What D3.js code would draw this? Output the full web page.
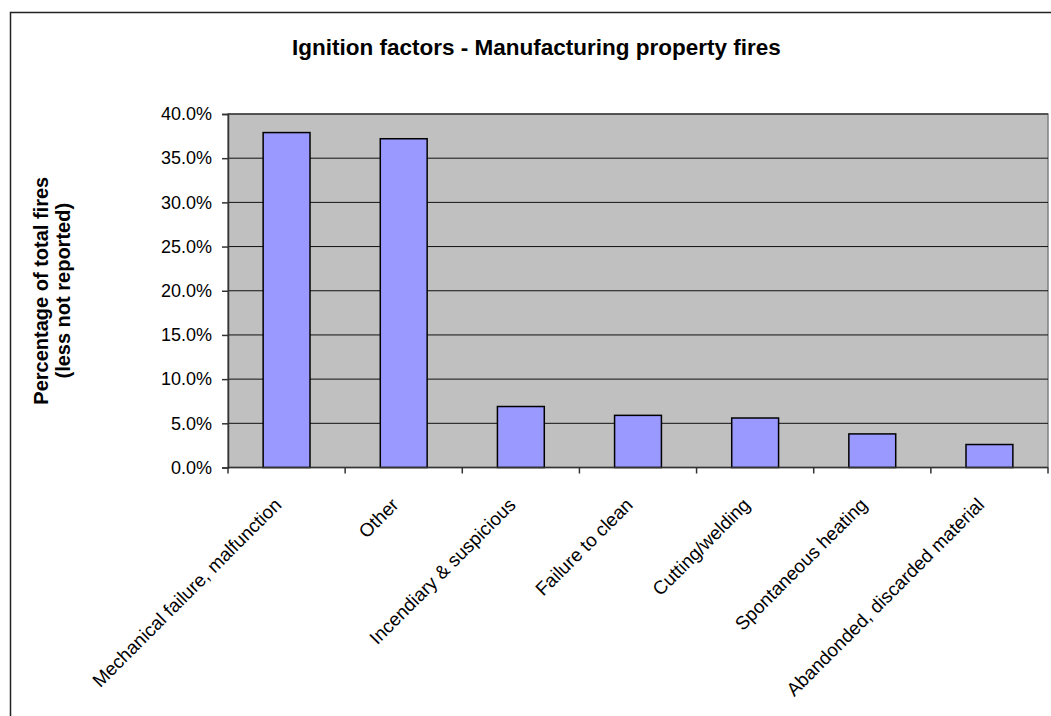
<!DOCTYPE html>
<html>
<head>
<meta charset="utf-8">
<script src="https://cdn.jsdelivr.net/npm/d3@7"></script>
<style>
  html, body { margin: 0; padding: 0; background: #fff; }
  svg { display: block; font-family: "Liberation Sans", Arial, sans-serif; }
</style>
</head>
<body>
<svg id="chart" width="1051" height="716"></svg>
<script>
const categories = [
  "Mechanical failure, malfunction",
  "Other",
  "Incendiary & suspicious",
  "Failure to clean",
  "Cutting/welding",
  "Spontaneous heating",
  "Abandonded, discarded material"
];
const values = [37.9, 37.2, 6.9, 5.9, 5.6, 3.8, 2.6];
const yTicks = [0, 5, 10, 15, 20, 25, 30, 35, 40];
const titleText = "Ignition factors - Manufacturing property fires";
const yLabelLines = ["Percentage of total fires", "(less not reported)"];

const svg = d3.select("#chart");
const plot = { left: 228, right: 1048, top: 114, bottom: 467.5 };

// outer chart border (extends beyond the window)
svg.append("rect")
  .attr("x", 10.5).attr("y", 12.5)
  .attr("width", 1100).attr("height", 800)
  .attr("fill", "#fff").attr("stroke", "#222").attr("stroke-width", 1.5);

const x = d3.scaleBand().domain(categories)
  .range([plot.left, plot.right]).paddingInner(0.6).paddingOuter(0.3);
const xCat = d3.scaleBand().domain(categories).range([plot.left, plot.right]);
const y = d3.scaleLinear().domain([0, 40]).range([plot.bottom, plot.top]);

// plot background
svg.append("rect")
  .attr("x", plot.left).attr("y", plot.top)
  .attr("width", plot.right - plot.left).attr("height", plot.bottom - plot.top)
  .attr("fill", "#c0c0c0").attr("stroke", "#808080").attr("stroke-width", 1.5);

// gridlines
svg.append("g").selectAll("line").data(yTicks.filter(d => d > 0)).join("line")
  .attr("x1", plot.left).attr("x2", plot.right)
  .attr("y1", d => y(d)).attr("y2", d => y(d))
  .attr("stroke", "#111").attr("stroke-width", 1);

// bars
svg.append("g").selectAll("rect").data(values).join("rect")
  .attr("x", (d, i) => x(categories[i]))
  .attr("width", x.bandwidth())
  .attr("y", d => y(d))
  .attr("height", d => y(0) - y(d))
  .attr("fill", "#9999ff").attr("stroke", "#000").attr("stroke-width", 1.5);

// y axis
const yAxis = d3.axisLeft(y).tickValues(yTicks)
  .tickFormat(d => d.toFixed(1) + "%").tickSize(6).tickPadding(10);
const gy = svg.append("g").attr("transform", `translate(${plot.left},0)`).call(yAxis);
gy.select(".domain").attr("stroke", "#333").attr("stroke-width", 1.5);
gy.selectAll(".tick line").attr("stroke", "#333").attr("stroke-width", 1.5);
gy.selectAll(".tick text").attr("font-size", 18).attr("fill", "#000")
  .attr("font-family", "'Liberation Sans', Arial, sans-serif");

// x axis line and category boundary ticks
svg.append("line")
  .attr("x1", plot.left).attr("x2", plot.right)
  .attr("y1", plot.bottom).attr("y2", plot.bottom)
  .attr("stroke", "#333").attr("stroke-width", 1.5);
const bounds = categories.map(c => xCat(c)).concat([plot.right]);
svg.append("g").selectAll("line").data(bounds).join("line")
  .attr("x1", d => d).attr("x2", d => d)
  .attr("y1", plot.bottom).attr("y2", plot.bottom + 6)
  .attr("stroke", "#333").attr("stroke-width", 1.5);

// category labels
svg.append("g").selectAll("text").data(categories).join("text")
  .attr("transform", d => `translate(${xCat(d) + xCat.bandwidth() / 2 - 4},506) rotate(-45)`)
  .attr("text-anchor", "end")
  .attr("font-size", 18.8)
  .attr("fill", "#000")
  .text(d => d);

// title
svg.append("text")
  .attr("x", 536.5).attr("y", 55)
  .attr("text-anchor", "middle")
  .attr("font-size", 22.5).attr("font-weight", "bold")
  .text(titleText);

// y label
const yl = svg.append("text")
  .attr("transform", `translate(48,${(plot.top + plot.bottom) / 2}) rotate(-90)`)
  .attr("text-anchor", "middle")
  .attr("font-size", 20).attr("font-weight", "bold");
yl.selectAll("tspan").data(yLabelLines).join("tspan")
  .attr("x", 0).attr("dy", (d, i) => i === 0 ? 0 : 22)
  .text(d => d);
</script>
</body>
</html>
